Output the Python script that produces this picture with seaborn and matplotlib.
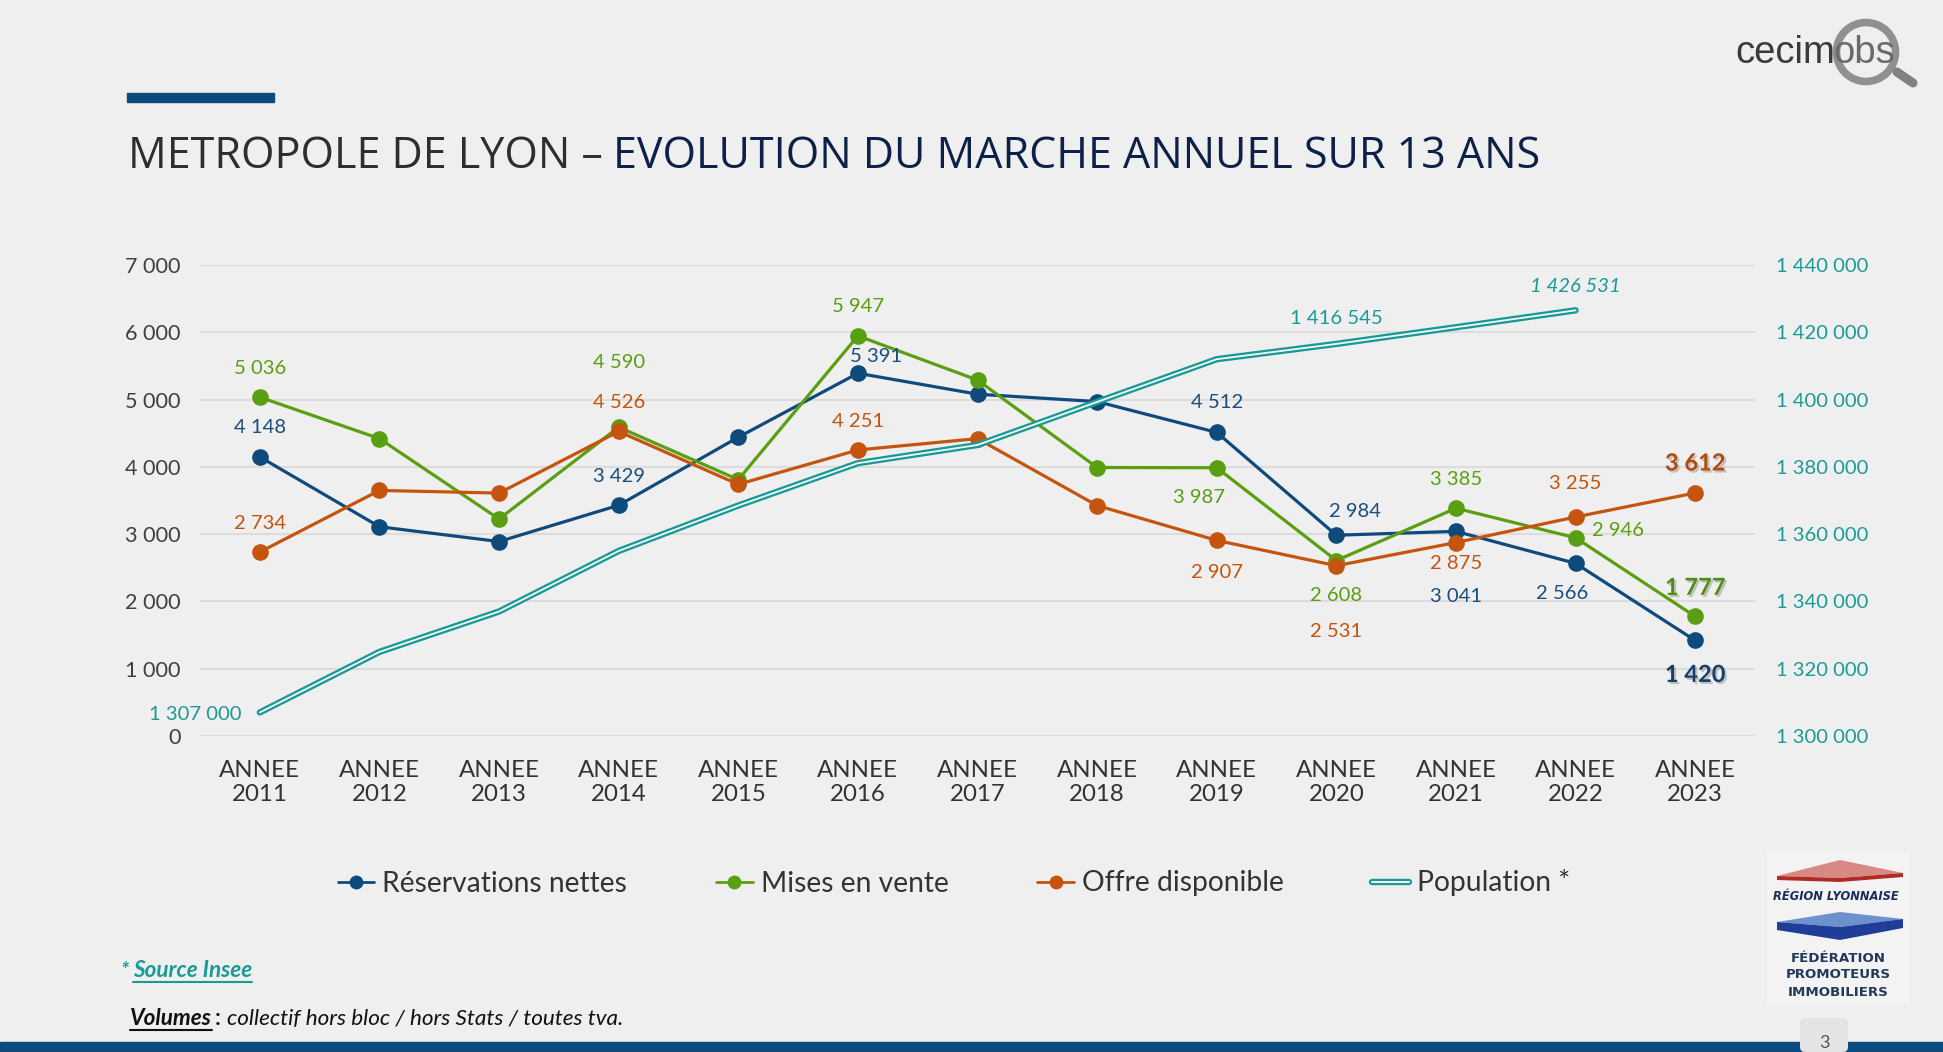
import numpy as np
import pandas as pd
import matplotlib
matplotlib.use("Agg")
import matplotlib.pyplot as plt
import matplotlib.patheffects as pe
from matplotlib.patches import Polygon, Rectangle, Circle, FancyBboxPatch
from matplotlib.lines import Line2D
from matplotlib.ticker import FuncFormatter
import seaborn as sns

# ---------------- data ----------------
years = [str(y) for y in range(2011, 2024)]
categories = [f"ANNEE\n{y}" for y in years]
reservations = [4148, 3110, 2890, 3429, 4440, 5391, 5080, 4970, 4512, 2984, 3041, 2566, 1420]
mises_en_vente = [5036, 4420, 3225, 4590, 3810, 5947, 5290, 3990, 3987, 2608, 3385, 2946, 1777]
offre_disponible = [2734, 3650, 3610, 4526, 3740, 4251, 4420, 3425, 2907, 2531, 2875, 3255, 3612]
population = [1307000, 1325000, 1337000, 1355000, 1368500, 1381100, 1386500,
              1399300, 1412000, 1416545, 1421500, 1426531]  # 2011-2022
series_names = ["Réservations nettes", "Mises en vente", "Offre disponible", "Population *"]
left_ticks = [0, 1000, 2000, 3000, 4000, 5000, 6000, 7000]
right_ticks = [1300000, 1320000, 1340000, 1360000, 1380000, 1400000, 1420000, 1440000]

# ---------------- style ----------------
W, H = 1943, 1052
BG = "#efefef"
BLUE = "#0e4a7b"
GREEN = "#5a9e12"
ORANGE = "#c4540e"
TEAL = "#1a9a96"
GRID = "#dcdcdc"
TXT = "#333333"

sns.set_style("white")
plt.rcParams["font.family"] = ["Lato", "DejaVu Sans"]


def fx(x):
    return x / W


def fy(y):
    return 1 - y / H


def fmt(v):
    return f"{v:,.0f}".replace(",", " ")


fig = plt.figure(figsize=(W / 100, H / 100), dpi=100, facecolor=BG)
ax = fig.add_axes([fx(200), fy(736), (1755 - 200) / W, (736 - 265) / H])
ax.set_facecolor(BG)

x = np.arange(len(years))
df = pd.DataFrame({"x": x, "res": reservations, "mev": mises_en_vente, "off": offre_disponible})

for col, color in [("res", BLUE), ("mev", GREEN), ("off", ORANGE)]:
    sns.lineplot(data=df, x="x", y=col, ax=ax, color=color, linewidth=2.3,
                 marker="o", markersize=12, markeredgewidth=0, legend=False, zorder=3)

ax.set_xlim(-0.5, 12.5)
ax.set_ylim(0, 7000)
ax.set_yticks(left_ticks)
ax.yaxis.set_major_formatter(FuncFormatter(lambda v, p: fmt(v)))
ax.set_xticks(x)
ax.set_xticklabels(categories)
ax.set_xlabel("")
ax.set_ylabel("")
ax.yaxis.grid(True, color=GRID, linewidth=1.5)
ax.xaxis.grid(False)
ax.set_axisbelow(True)
for s in ax.spines.values():
    s.set_visible(False)
ax.tick_params(axis="y", length=0, pad=14, labelsize=15.6, labelcolor="#404040")
ax.tick_params(axis="x", length=0, pad=17, labelsize=17.3, labelcolor=TXT)

ax2 = ax.twinx()
sns.lineplot(x=x[:len(population)], y=population, ax=ax2, color="#f7f7f7", linewidth=1.3, legend=False)
pop_line = ax2.lines[-1]
pop_line.set_path_effects([pe.Stroke(linewidth=4.6, foreground=TEAL), pe.Normal()])
ax2.set_ylim(1300000, 1440000)
ax2.set_yticks(right_ticks)
ax2.yaxis.set_major_formatter(FuncFormatter(lambda v, p: fmt(v)))
ax2.set_ylabel("")
for s in ax2.spines.values():
    s.set_visible(False)
ax2.tick_params(axis="y", length=0, pad=15, labelsize=14.5, labelcolor=TEAL)
ax2.grid(False)

# ---------------- data labels ----------------
shadow = [pe.SimplePatchShadow(offset=(1.5, -1.5), shadow_rgbFace="#888888", alpha=0.45), pe.Normal()]


def label(axis, i, vals, color, dx, dy, ha="center", bold=False, italic=False):
    axis.annotate(fmt(vals[i]), xy=(x[i], vals[i]), xytext=(dx, dy), textcoords="offset pixels",
                  ha=ha, va="center", color=color,
                  fontsize=17 if bold else 14.6,
                  fontweight="bold" if bold else "normal",
                  fontstyle="italic" if italic else "normal",
                  path_effects=shadow if bold else None, zorder=5)


blue_lab = {0: (0, 29), 3: (0, 29), 5: (18, 17), 8: (0, 30), 9: (19, 24),
            10: (0, -65), 11: (-13, -30)}
for i, (dx, dy) in blue_lab.items():
    label(ax, i, reservations, "#1b4e7c", dx, dy)
label(ax, 12, reservations, "#173f6b", 0, -34, bold=True)

green_lab = {0: (0, 29), 3: (0, 65), 5: (0, 29), 8: (-18, -30), 9: (0, -35), 10: (0, 29)}
for i, (dx, dy) in green_lab.items():
    label(ax, i, mises_en_vente, GREEN, dx, dy)
label(ax, 11, mises_en_vente, GREEN, 16, 7, ha="left")
label(ax, 12, mises_en_vente, "#4f8d10", 0, 29, bold=True)

orange_lab = {0: (0, 29), 3: (0, 29), 5: (0, 28), 8: (0, -32), 9: (0, -66), 10: (0, -21), 11: (0, 33)}
for i, (dx, dy) in orange_lab.items():
    label(ax, i, offre_disponible, ORANGE, dx, dy)
label(ax, 12, offre_disponible, "#b24a0c", 0, 30, bold=True)

label(ax2, 0, population, TEAL, -18, -2, ha="right")
label(ax2, 9, population, TEAL, 0, 25)
label(ax2, 11, population, TEAL, 0, 24, italic=True)

# ---------------- legend ----------------
handles = [
    Line2D([], [], color=BLUE, lw=2, marker="o", ms=10, mew=0),
    Line2D([], [], color=GREEN, lw=2, marker="o", ms=10, mew=0),
    Line2D([], [], color=ORANGE, lw=2, marker="o", ms=10, mew=0),
    Line2D([], [], color="#f7f7f7", lw=1.4,
           path_effects=[pe.Stroke(linewidth=4.6, foreground=TEAL), pe.Normal()]),
]
leg = fig.legend(handles, series_names, loc="center", bbox_to_anchor=(fx(954), fy(883)),
                 ncol=4, frameon=False, fontsize=20.3, handlelength=1.3, handletextpad=0.28,
                 columnspacing=3.15, labelcolor=TXT)

# ---------------- title & decorations ----------------
fig.patches.append(Rectangle((fx(127), fy(102)), (274 - 127) / W, 9 / H, transform=fig.transFigure,
                             color="#0d4a7b", zorder=2))
t1 = fig.text(fx(128), fy(168), "METROPOLE DE LYON –", fontsize=31, color="#2e2e2e",
              family=["Open Sans", "DejaVu Sans"], va="baseline", ha="left")

# cecimobs logo
fig.text(fx(1735), fy(63), "cecim", fontsize=27.5, color="#3a3a3a", family=["Liberation Sans"],
         va="baseline", ha="left")
fig.text(fx(1833), fy(63), "obs", fontsize=27.5, color="#6a6a6a", family=["Liberation Sans"],
         va="baseline", ha="left")
ring = Circle((1866, H - 52), 29.5, transform=None, fill=False, edgecolor="#808080", linewidth=5.5, alpha=0.85)
fig.patches.append(ring)
fig.lines.append(Line2D([1897, 1913], [H - 72, H - 83], transform=None, color="#808080", lw=6.5,
                        solid_capstyle="round"))

# right logo
fig.patches.append(Rectangle((fx(1767), fy(1003)), (1908 - 1767) / W, (1003 - 852) / H,
                             transform=fig.transFigure, color="#f3f3f3", zorder=0))


def poly(pts, color):
    fig.patches.append(Polygon([(fx(a), fy(b)) for a, b in pts], closed=True, transform=fig.transFigure,
                               facecolor=color, edgecolor="none", zorder=1))


poly([(1777, 876), (1840, 860), (1903, 873), (1840, 878)], "#d88a82")
poly([(1777, 876), (1840, 878), (1903, 873), (1903, 877), (1840, 882), (1777, 880)], "#b02a26")
poly([(1777, 922), (1840, 912), (1903, 919), (1840, 927)], "#6d90cf")
poly([(1777, 922), (1840, 927), (1903, 919), (1903, 928), (1840, 940), (1777, 930)], "#1f3e98")
fig.text(fx(1836), fy(897), "RÉGION LYONNAISE", fontsize=8.3, fontweight="bold", fontstyle="italic",
         color="#1b2b5a", family=["DejaVu Sans"], ha="center", va="center")
for yy, s in [(958, "FÉDÉRATION"), (975, "PROMOTEURS"), (992, "IMMOBILIERS")]:
    fig.text(fx(1838), fy(yy), s, fontsize=9.6, fontweight="bold", color="#23395c",
             family=["DejaVu Sans"], ha="center", va="center")

# bottom bar and page number
fig.patches.append(Rectangle((0, 0), 1, 10 / H, transform=fig.transFigure, color="#0e4c80", zorder=1))
fig.patches.append(FancyBboxPatch((1800, 0), 48, H - 1018, transform=None,
                                  boxstyle="round,pad=0,rounding_size=5", facecolor="#e4e4e4",
                                  edgecolor="none", zorder=2))
fig.text(fx(1824), fy(1043), "3", fontsize=13, color="#555555", ha="center", va="center")

# notes
fig.text(fx(120), fy(977), "*", fontsize=15, color=TEAL, fontweight="bold", fontstyle="italic",
         va="baseline", ha="left")
t_src = fig.text(fx(133), fy(977), "Source Insee", fontsize=16.2, color=TEAL, fontweight="bold",
                 fontstyle="italic", va="baseline", ha="left")
t_vol = fig.text(fx(130), fy(1025), "Volumes", fontsize=16.2, color="#111111", fontweight="bold",
                 fontstyle="italic", va="baseline", ha="left")

fig.canvas.draw()
r = fig.canvas.get_renderer()
bb1 = t1.get_window_extent(r)
fig.text((bb1.x1 + 10) / W, fy(168), "EVOLUTION DU MARCHE ANNUEL SUR 13 ANS", fontsize=31,
         color="#0d2148", family=["Open Sans", "DejaVu Sans"], va="baseline", ha="left")
bbs = t_src.get_window_extent(r)
fig.lines.append(Line2D([bbs.x0, bbs.x1], [H - 982, H - 982], transform=None, color=TEAL, lw=1.5))
bbv = t_vol.get_window_extent(r)
fig.lines.append(Line2D([bbv.x0, bbv.x1], [H - 1030, H - 1030], transform=None, color="#111111", lw=1.5))
t_col = fig.text((bbv.x1 + 3) / W, fy(1025), ":", fontsize=16.2, color="#111111", fontweight="bold",
                 va="baseline", ha="left")
fig.canvas.draw()
bbc = t_col.get_window_extent(r)
fig.text((bbc.x1 + 6) / W, fy(1025), "collectif hors bloc / hors Stats / toutes tva.", fontsize=16.2,
         color="#111111", fontstyle="italic", va="baseline", ha="left")

fig.savefig("out.png", dpi=100, facecolor=BG)
